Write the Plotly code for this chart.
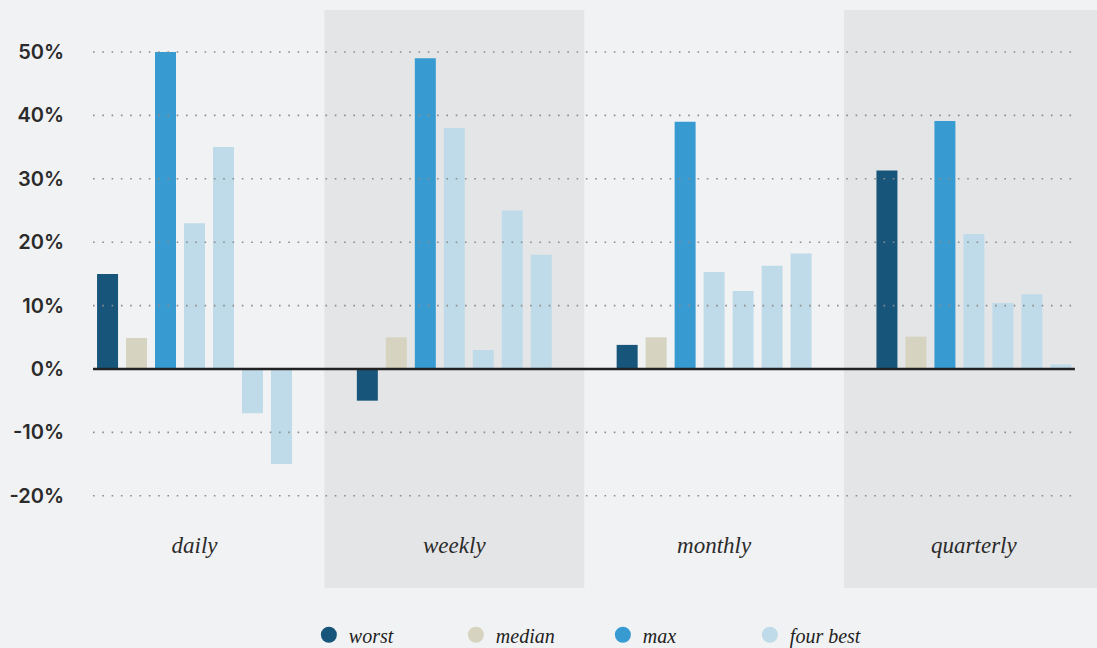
import plotly.graph_objects as go

categories = ["daily", "weekly", "monthly", "quarterly"]
worst = [15, -5, 3.8, 31.3]
median = [4.9, 5.0, 5.0, 5.1]
max_vals = [50, 49, 39, 39.1]
best1 = [23, 38, 15.3, 21.3]
best2 = [35, 3, 12.3, 10.4]
best3 = [-7, 25, 16.3, 11.8]
best4 = [-15, 18, 18.2, 0.7]
y_ticks = [-20, -10, 0, 10, 20, 30, 40, 50]
y_tick_labels = [f"{v}%" for v in y_ticks]
legend_names = ["worst", "median", "max", "four best"]

C_WORST = "#17567a"
C_MED = "#d6d4c0"
C_MAX = "#379bd2"
C_BEST = "#bfdbe9"
legend_colors = [C_WORST, C_MED, C_MAX, C_BEST]

series = [
    (worst, C_WORST), (median, C_MED), (max_vals, C_MAX),
    (best1, C_BEST), (best2, C_BEST), (best3, C_BEST), (best4, C_BEST),
]

fig = go.Figure()
for vals, col in series:
    fig.add_trace(go.Bar(x=categories, y=vals, marker=dict(color=col, line=dict(width=0)),
                         showlegend=False, hoverinfo="x+y"))

for name, col in zip(legend_names, legend_colors):
    fig.add_trace(go.Scatter(x=[None], y=[None], mode="markers", name=name,
                             marker=dict(color=col, size=18, symbol="circle")))

shapes = []
for i in (1, 3):
    shapes.append(dict(type="rect", xref="x", yref="paper", x0=i - 0.5, x1=i + 0.5,
                       y0=-0.1333, y1=1, fillcolor="#e4e5e7", line=dict(width=0), layer="below"))
for v in y_ticks:
    if v != 0:
        shapes.append(dict(type="line", xref="paper", yref="y", x0=0, x1=0.975, y0=v, y1=v,
                           line=dict(color="#8c8c8c", width=1.6, dash="1.6px,7.7px"), layer="above"))
shapes.append(dict(type="line", xref="paper", yref="y", x0=0, x1=0.978, y0=0, y1=0,
                   line=dict(color="#222222", width=2.5), layer="above"))

fig.update_layout(
    width=1097, height=648,
    margin=dict(l=93, r=0, t=10, b=128, autoexpand=False),
    paper_bgcolor="#f1f2f4", plot_bgcolor="rgba(0,0,0,0)",
    barmode="group", bargap=0.219, bargroupgap=0.276,
    showlegend=True,
    legend=dict(orientation="h", xref="paper", x=0.215, xanchor="left",
                yref="paper", y=-0.225, yanchor="middle",
                font=dict(family="Liberation Serif", size=20, color="#222222", style="italic"),
                entrywidth=102, entrywidthmode="pixels", bgcolor="rgba(0,0,0,0)"),
    xaxis=dict(type="category", range=[-0.3907, 3.4738], showgrid=False, zeroline=False,
               showline=False, ticks="", ticklabelstandoff=9,
               tickfont=dict(family="Liberation Serif", size=23, color="#2b2b2b", style="italic")),
    yaxis=dict(range=[-23.82, 56.62], tickvals=y_ticks, ticktext=y_tick_labels,
               showgrid=False, zeroline=False, showline=False, ticks="", ticklabelstandoff=28,
               tickfont=dict(family="Inter", size=20, color="#2b2b2b", weight=600)),
    shapes=shapes,
)

fig.write_html("out.html")
